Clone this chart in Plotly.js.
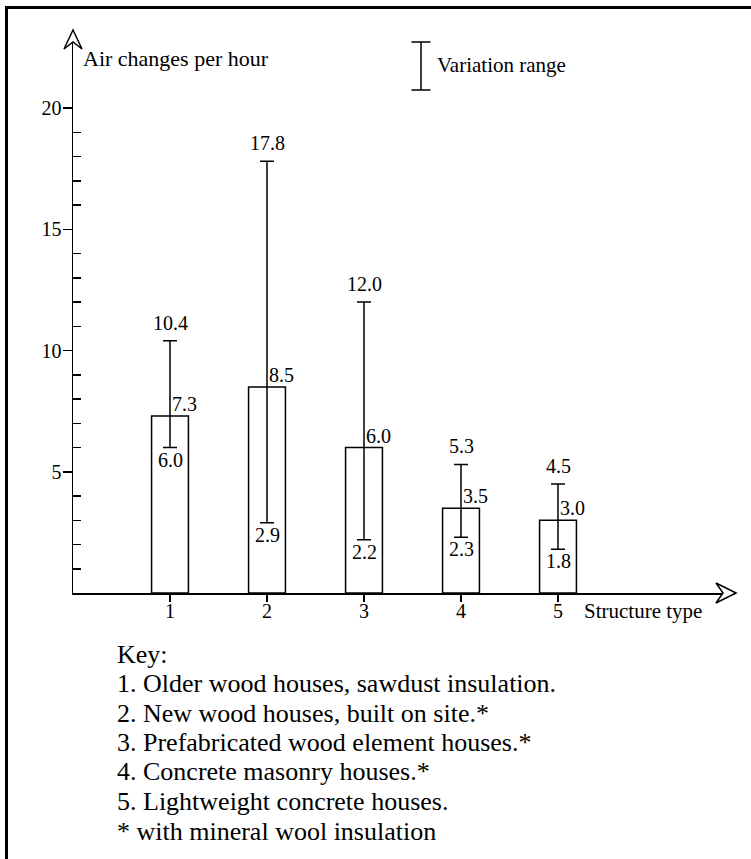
<!DOCTYPE html>
<html>
<head>
<meta charset="utf-8">
<script src="https://cdn.plot.ly/plotly-3.0.1.min.js"></script>
<style>html,body{margin:0;padding:0;background:#fff;}#chart{width:751px;height:859px;}</style>
</head>
<body>
<div id="chart"></div>
<script>
// ---- data ----
const typeNumbers = [1, 2, 3, 4, 5];
const typeLabels = ['1', '2', '3', '4', '5'];
const meanACH = [7.3, 8.5, 6.0, 3.5, 3.0];
const minACH = [6.0, 2.9, 2.2, 2.3, 1.8];
const maxACH = [10.4, 17.8, 12.0, 5.3, 4.5];
const yMajorTicks = [5, 10, 15, 20];
const yMinorTicks = [1, 2, 3, 4, 6, 7, 8, 9, 11, 12, 13, 14, 16, 17, 18, 19];
const yTitle = 'Air changes per hour';
const xTitle = 'Structure type';
const rangeLegend = 'Variation range';
const keyTitle = 'Key:';
const keyLines = [
  '1. Older wood houses, sawdust insulation.',
  '2. New wood houses, built on site.*',
  '3. Prefabricated wood element houses.*',
  '4. Concrete masonry houses.*',
  '5. Lightweight concrete houses.',
  '* with mineral wool insulation'
];

// ---- layout geometry (pixels) ----
const W = 751, H = 859;
const L = 73, R = 16, T = 30, B = 266;
const PW = W - L - R, PH = H - T - B;
const pxPerCat = 97, pxPerUnit = 24.25;
const FONT = 'Liberation Serif';
const px = x => (x - L) / PW;
const py = y => (H - B - y) / PH;

const bar = {
  type: 'bar', x: typeNumbers, y: meanACH, width: 0.38,
  marker: {color: '#fff', line: {color: '#000', width: 1.5}},
  error_y: {
    type: 'data', symmetric: false,
    array: maxACH.map((v, i) => v - meanACH[i]),
    arrayminus: meanACH.map((v, i) => v - minACH[i]),
    color: '#000', thickness: 1.5, width: 7
  },
  hoverinfo: 'none', showlegend: false
};

const annotations = [];
const lblFont = {family: FONT, size: 20, color: '#000'};
typeNumbers.forEach((x, i) => {
  annotations.push({x: x, y: maxACH[i], xref: 'x', yref: 'y', text: maxACH[i].toFixed(1),
    showarrow: false, xanchor: 'center', yanchor: 'bottom', yshift: 5, font: lblFont});
  annotations.push({x: x, y: meanACH[i], xref: 'x', yref: 'y', text: meanACH[i].toFixed(1),
    showarrow: false, xanchor: 'left', yanchor: 'bottom', xshift: 0, yshift: -1, font: lblFont});
  annotations.push({x: x, y: minACH[i], xref: 'x', yref: 'y', text: minACH[i].toFixed(1),
    showarrow: false, xanchor: 'center', yanchor: 'top', yshift: 1, font: lblFont});
  annotations.push({x: x, y: py(611), xref: 'x', yref: 'paper', text: typeLabels[i],
    showarrow: false, xanchor: 'center', yanchor: 'middle', font: lblFont});
});
annotations.push({x: px(81), y: py(59), xref: 'paper', yref: 'paper', text: yTitle, showarrow: false,
  xanchor: 'left', yanchor: 'middle', font: {family: FONT, size: 22, color: '#000'}});
annotations.push({x: px(435), y: py(65), xref: 'paper', yref: 'paper', text: rangeLegend, showarrow: false,
  xanchor: 'left', yanchor: 'middle', font: {family: FONT, size: 21, color: '#000'}});
annotations.push({x: px(582), y: py(611), xref: 'paper', yref: 'paper', text: xTitle, showarrow: false,
  xanchor: 'left', yanchor: 'middle', font: {family: FONT, size: 21, color: '#000'}});
[keyTitle].concat(keyLines).forEach((t, i) => {
  annotations.push({x: px(115), y: py(654 + i * 29.5), xref: 'paper', yref: 'paper', text: t, showarrow: false,
    xanchor: 'left', yanchor: 'middle', font: {family: FONT, size: 26, color: '#000'}});
});

const shapes = [
  // frame
  {type: 'path', xref: 'paper', yref: 'paper',
   path: `M ${px(6.5)} ${py(870)} L ${px(6.5)} ${py(7.5)} L ${px(760)} ${py(7.5)}`,
   line: {color: '#000', width: 3}},
  // y-axis arrowhead
  {type: 'path', xref: 'paper', yref: 'paper',
   path: `M ${px(73)} ${py(30)} L ${px(64)} ${py(49)} L ${px(73)} ${py(42)} L ${px(82)} ${py(49)} Z`,
   fillcolor: '#fff', line: {color: '#000', width: 1.5}, layer: 'above'},
  // x-axis arrowhead
  {type: 'path', xref: 'paper', yref: 'paper',
   path: `M ${px(736)} ${py(593)} L ${px(716)} ${py(583)} L ${px(723)} ${py(593)} L ${px(716)} ${py(603)} Z`,
   fillcolor: '#fff', line: {color: '#000', width: 1.5}, layer: 'above'},
  // legend error symbol
  {type: 'line', xref: 'paper', yref: 'paper', x0: px(421), x1: px(421), y0: py(42), y1: py(90), line: {color: '#000', width: 1.5}},
  {type: 'line', xref: 'paper', yref: 'paper', x0: px(411.5), x1: px(430.5), y0: py(42), y1: py(42), line: {color: '#000', width: 1.5}},
  {type: 'line', xref: 'paper', yref: 'paper', x0: px(411.5), x1: px(430.5), y0: py(90), y1: py(90), line: {color: '#000', width: 1.5}}
];

const layout = {
  width: W, height: H,
  margin: {l: L, r: R, t: T, b: B, pad: 0},
  paper_bgcolor: '#fff', plot_bgcolor: '#fff',
  font: {family: FONT, color: '#000'},
  showlegend: false,
  xaxis: {
    range: [0, PW / pxPerCat], showgrid: false, zeroline: false,
    showline: true, linecolor: '#000', linewidth: 1.5,
    tickmode: 'array', tickvals: typeNumbers, showticklabels: false,
    ticks: 'outside', ticklen: 7, tickwidth: 1.5, tickcolor: '#000', fixedrange: true
  },
  yaxis: {
    range: [0, PH / pxPerUnit], showgrid: false, zeroline: false,
    showline: true, linecolor: '#000', linewidth: 1.5,
    tickmode: 'array', tickvals: yMajorTicks, ticktext: yMajorTicks.map(String),
    ticks: 'outside', ticklen: 9, tickwidth: 1.5, tickcolor: '#000',
    ticklabelstandoff: -3,
    tickfont: {family: FONT, size: 20, color: '#000'},
    minor: {tickmode: 'array', tickvals: yMinorTicks, ticks: 'inside', ticklen: 8, tickwidth: 1.5, tickcolor: '#000', showgrid: false},
    fixedrange: true
  },
  annotations: annotations,
  shapes: shapes
};

Plotly.newPlot('chart', [bar], layout, {displayModeBar: false, staticPlot: true});
</script>
</body>
</html>
